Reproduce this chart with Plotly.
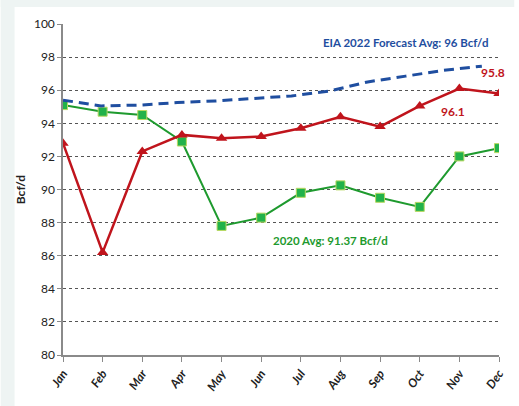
import plotly.graph_objects as go

months = ["Jan", "Feb", "Mar", "Apr", "May", "Jun", "Jul", "Aug", "Sep", "Oct", "Nov", "Dec"]
prod_2022 = [92.8, 86.2, 92.3, 93.3, 93.1, 93.2, 93.7, 94.4, 93.8, 95.05, 96.1, 95.8]
prod_2020 = [95.1, 94.7, 94.5, 92.9, 87.8, 88.3, 89.8, 90.25, 89.5, 88.95, 92.0, 92.5]
eia_forecast = [95.4, 95.05, 95.1, 95.25, 95.35, 95.5, 95.65, 95.95, 96.5, 96.85, 97.2, 97.45]
y_ticks = list(range(80, 101, 2))

RED = "#c0141c"
GREEN = "#1e9a2e"
BLUE = "#1f4ea0"
NARROW = "Lato, sans-serif"

fig = go.Figure()

# EIA forecast curve sits on its own (hidden) month axis
fig.add_trace(go.Scatter(
    x=months, y=eia_forecast, xaxis="x2", mode="lines",
    line=dict(color=BLUE, width=3, dash="10px,6px"), showlegend=False,
))
fig.add_trace(go.Scatter(
    x=months, y=prod_2020, mode="lines+markers",
    line=dict(color=GREEN, width=2),
    marker=dict(symbol="square", size=9, color="#22b24a", line=dict(color="#b8d860", width=1)),
    showlegend=False,
))
fig.add_trace(go.Scatter(
    x=months, y=prod_2022, mode="lines+markers",
    line=dict(color=RED, width=2.5),
    marker=dict(symbol="triangle-up", size=10, color=RED),
    showlegend=False,
))

annotations = [
    dict(x=months[11], y=eia_forecast[11] + 1.45, text="EIA 2022 Forecast Avg: 96 Bcf/d",
         xanchor="right", xshift=-9, font=dict(color=BLUE, size=11.5, family=NARROW, weight="bold")),
    dict(x=months[11], y=prod_2022[11] + 1.3, text=f"{prod_2022[11]:.1f}",
         xanchor="center", xshift=-6, font=dict(color=RED, size=12, family=NARROW, weight="bold")),
    dict(x=months[10], y=prod_2022[10] - 1.4, text=f"{prod_2022[10]:.1f}",
         xanchor="center", xshift=-6, font=dict(color=RED, size=12, family=NARROW, weight="bold")),
    dict(x=months[5], y=86.9, text="2020 Avg: 91.37 Bcf/d",
         xanchor="left", xshift=10, font=dict(color=GREEN, size=11.5, family=NARROW, weight="bold")),
]
for a in annotations:
    a.update(showarrow=False, xref="x", yref="y", yanchor="middle")

fig.update_layout(
    width=519, height=406,
    margin=dict(l=63, r=15, t=24, b=51),
    paper_bgcolor="white", plot_bgcolor="white",
    annotations=annotations,
    xaxis=dict(
        type="category", categoryorder="array", categoryarray=months,
        range=[0, 11], showgrid=False, zeroline=False,
        showline=True, linecolor="#8a8a8a", linewidth=1.5,
        ticks="outside", ticklen=5, tickcolor="#8a8a8a", tickangle=-55,
        tickfont=dict(size=12, color="#222", family=NARROW, weight="bold", style="italic"),
    ),
    xaxis2=dict(
        type="category", categoryorder="array", categoryarray=months,
        range=[0, 11.45], overlaying="x", visible=False,
    ),
    yaxis=dict(
        range=[80, 100], tickvals=y_ticks, showgrid=True,
        gridcolor="#555", griddash="dot", gridwidth=1, zeroline=False,
        showline=True, linecolor="#8a8a8a", linewidth=1.5,
        ticks="outside", ticklen=4, tickcolor="#8a8a8a",
        tickfont=dict(size=12, color="#222", family=NARROW),
        title=dict(text="Bcf/d", standoff=6,
                   font=dict(size=12, color="#222", family=NARROW, weight="bold")),
    ),
    shapes=[
        dict(type="rect", xref="paper", yref="paper", x0=-0.1429, x1=-0.1111,
             y0=-0.154, y1=1.0725, fillcolor="#eef4f3", line_width=0, layer="below"),
        dict(type="rect", xref="paper", yref="paper", x0=-0.1429, x1=1.035,
             y0=1.0514, y1=1.0725, fillcolor="#eef4f3", line_width=0, layer="below"),
    ],
)

fig.write_html("out.html")
